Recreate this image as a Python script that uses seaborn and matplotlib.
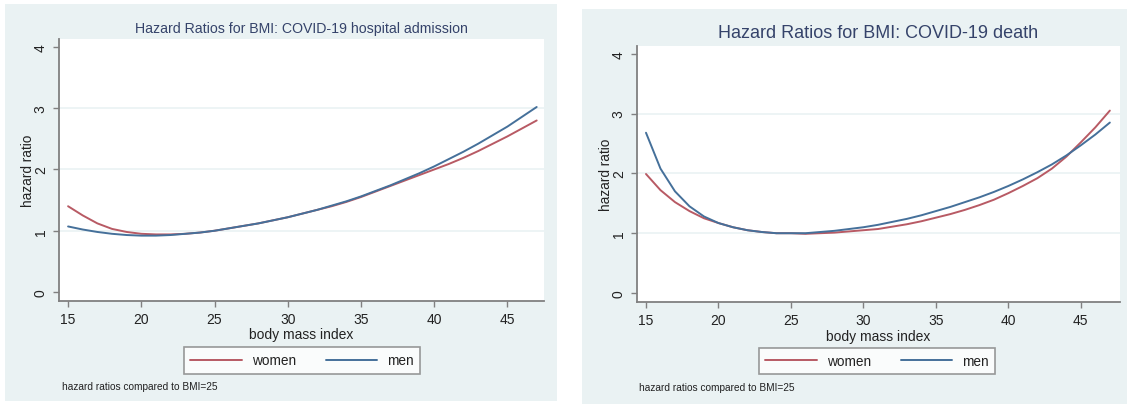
import numpy as np
import pandas as pd
import matplotlib
matplotlib.use("Agg")
import matplotlib.pyplot as plt
from matplotlib.patches import Rectangle
from matplotlib.lines import Line2D
import seaborn as sns

# ---------------- data ----------------
bmi = list(range(15, 48))

hosp_women = [1.40, 1.25, 1.12, 1.03, 0.98, 0.95, 0.94, 0.94, 0.95, 0.97,
              1.00, 1.04, 1.08, 1.12, 1.17, 1.22, 1.28, 1.34, 1.40, 1.47,
              1.55, 1.64, 1.73, 1.82, 1.91, 2.00, 2.09, 2.19, 2.30, 2.42,
              2.54, 2.67, 2.80]
hosp_men = [1.07, 1.02, 0.98, 0.95, 0.93, 0.92, 0.92, 0.93, 0.95, 0.97,
            1.00, 1.04, 1.08, 1.12, 1.17, 1.22, 1.28, 1.34, 1.41, 1.48,
            1.56, 1.65, 1.74, 1.84, 1.94, 2.05, 2.17, 2.29, 2.42, 2.56,
            2.70, 2.86, 3.02]

death_women = [1.99, 1.72, 1.52, 1.37, 1.25, 1.17, 1.10, 1.05, 1.02, 1.00,
               1.00, 0.99, 1.00, 1.01, 1.03, 1.05, 1.07, 1.11, 1.15, 1.20,
               1.26, 1.32, 1.39, 1.47, 1.56, 1.67, 1.79, 1.92, 2.08, 2.28,
               2.52, 2.77, 3.05]
death_men = [2.68, 2.08, 1.70, 1.45, 1.28, 1.17, 1.10, 1.05, 1.02, 1.00,
             1.00, 1.00, 1.02, 1.04, 1.07, 1.10, 1.14, 1.19, 1.24, 1.30,
             1.37, 1.44, 1.52, 1.60, 1.69, 1.79, 1.90, 2.02, 2.15, 2.30,
             2.47, 2.65, 2.85]

titles = ["Hazard Ratios for BMI: COVID-19 hospital admission",
          "Hazard Ratios for BMI: COVID-19 death"]
series_names = ["women", "men"]
x_ticks = [15, 20, 25, 30, 35, 40, 45]
y_ticks = [0, 1, 2, 3, 4]
x_label = "body mass index"
y_label = "hazard ratio"
note = "hazard ratios compared to BMI=25"

# ---------------- styling ----------------
sns.set_theme(style="white")
plt.rcParams['font.family'] = ['Liberation Sans', 'DejaVu Sans']

W, H = 1127, 406
fig = plt.figure(figsize=(W / 100, H / 100), dpi=100)
fig.patch.set_facecolor("white")

BG = "#eaf2f3"
palette = {"women": "#b85a64", "men": "#45709a"}
AX_COL = "#808080"
TXT = "#222222"
TITLE_COL = "#35436a"


def px_rect(x0, y0, x1, y1):
    return [x0 / W, 1 - y1 / H, (x1 - x0) / W, (y1 - y0) / H]


# panel backgrounds
for (x0, y0, x1, y1) in [(5, 5, 557, 402), (582, 10, 1127, 405)]:
    fig.patches.append(Rectangle((x0 / W, 1 - y1 / H), (x1 - x0) / W, (y1 - y0) / H,
                                 transform=fig.transFigure, facecolor=BG,
                                 edgecolor="none", zorder=-5))

panels = [
    dict(rect=px_rect(59, 40, 544, 302), xlim=(14.38, 47.5), ylim=(-0.147, 4.13),
         women=hosp_women, men=hosp_men, title=titles[0], tsize=10.2,
         ty=29, leg_cx=302, leg_cy=361.5, note_x=62, note_y=387, ylab_x=28),
    dict(rect=px_rect(637, 47, 1120, 303), xlim=(14.38, 47.7), ylim=(-0.15, 4.13),
         women=death_women, men=death_men, title=titles[1], tsize=13,
         ty=33, leg_cx=877, leg_cy=362, note_x=639, note_y=388, ylab_x=606),
]

for p in panels:
    ax = fig.add_axes(p["rect"])
    ax.set_zorder(2)
    ax.set_facecolor("white")
    df = pd.DataFrame({
        "bmi": bmi * 2,
        "hr": p["women"] + p["men"],
        "sex": ["women"] * len(bmi) + ["men"] * len(bmi),
    })
    for yv in [1, 2, 3]:
        ax.axhline(yv, color=BG, lw=1.2, zorder=0)
    sns.lineplot(data=df, x="bmi", y="hr", hue="sex", palette=palette,
                 hue_order=series_names, lw=1.4, legend=False, ax=ax)
    ax.set_xlim(*p["xlim"])
    ax.set_ylim(*p["ylim"])
    ax.set_xticks(x_ticks)
    ax.set_yticks(y_ticks)
    ax.set_yticklabels([str(v) for v in y_ticks], rotation=90, va="center")
    ax.tick_params(axis="both", which="major", direction="out", length=4,
                   width=1, color=AX_COL, labelsize=10, labelcolor=TXT, pad=4,
                   bottom=True, left=True)
    for s in ["top", "right"]:
        ax.spines[s].set_visible(False)
    for s in ["left", "bottom"]:
        ax.spines[s].set_color(AX_COL)
        ax.spines[s].set_linewidth(1.3)
    ax.set_xlabel(x_label, fontsize=10, color=TXT, labelpad=1)
    ax.set_ylabel("")
    # y label placed in pixel coords
    yc = (p["rect"][1] + p["rect"][3] / 2)
    fig.text(p["ylab_x"] / W, yc, y_label, rotation=90, ha="center", va="center",
             fontsize=9.8, color=TXT)
    # title
    cx = p["rect"][0] + p["rect"][2] / 2
    fig.text(cx, 1 - p["ty"] / H, p["title"], ha="center", va="center",
             fontsize=p["tsize"], color=TITLE_COL)
    # legend
    handles = [Line2D([0], [0], color=palette[n], lw=1.4) for n in series_names]
    leg = fig.legend(handles, series_names, loc="center",
                     bbox_to_anchor=(p["leg_cx"] / W, 1 - p["leg_cy"] / H),
                     ncol=2, frameon=True, fancybox=False, fontsize=9.8,
                     handlelength=3.8, handletextpad=0.7, columnspacing=2.2,
                     borderpad=0.45, borderaxespad=0)
    leg.get_frame().set_edgecolor(AX_COL)
    leg.get_frame().set_linewidth(1.2)
    leg.get_frame().set_facecolor("white")
    for t in leg.get_texts():
        t.set_color(TXT)
    # note
    fig.text(p["note_x"] / W, 1 - p["note_y"] / H, note, ha="left", va="center",
             fontsize=7.3, color=TXT)

fig.savefig("out.png", dpi=100)
